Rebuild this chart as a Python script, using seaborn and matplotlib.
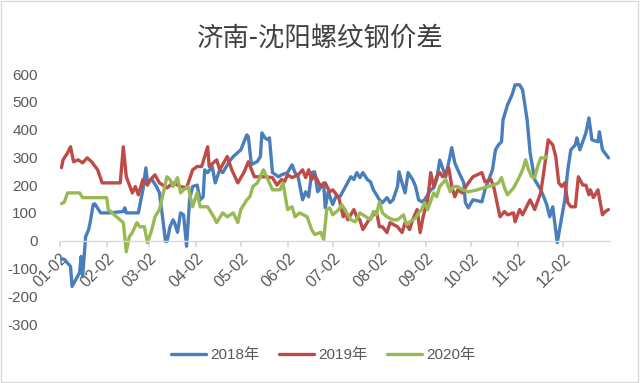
import numpy as np
import pandas as pd
import matplotlib
matplotlib.use("Agg")
import matplotlib.pyplot as plt
import seaborn as sns
from matplotlib.patches import Rectangle

# ---- data (day offset from 01-02, spread value) ----
days_2018 = [1, 3, 7, 8, 13, 14, 15, 17, 19, 20, 22, 23, 27, 33, 42, 43, 44, 52, 55, 57, 58, 61, 64, 66, 68, 70, 71,
             73, 75, 76, 78, 80, 82, 84, 86, 88, 91, 93, 95, 96, 98, 101, 103, 106, 108, 113, 115, 120, 124, 125, 127,
             131, 133, 134, 136, 138, 139, 141, 145, 147, 151, 154, 156, 158, 161, 163, 165, 167, 169, 171, 175, 176,
             178, 181, 183, 186, 189, 193, 195, 197, 199, 201, 204, 206, 208, 210, 212, 214, 217, 219, 221, 224, 225,
             227, 229, 231, 234, 236, 238, 240, 242, 246, 248, 250, 252, 256, 260, 262, 264, 268, 269, 271, 274, 280,
             282, 287, 289, 291, 293, 294, 297, 300, 302, 305, 307, 310, 312, 315, 319, 321, 323, 325, 327, 330, 333,
             335, 337, 339, 342, 343, 345, 349, 351, 353, 357, 358, 360, 364]
vals_2018 = [-65, -68, -93, -165, -115, -57, -130, 14, 40, 65, 130, 133, 100, 100, 105, 118, 100, 100, 183, 262, 212,
             220, 195, 172, 87, -3, -3, 50, 75, 65, 30, 100, 93, -20, 147, 195, 200, 147, 158, 255, 245, 267, 208, 255,
             245, 290, 303, 327, 381, 374, 274, 285, 303, 388, 370, 363, 370, 245, 230, 237, 245, 273, 245, 230, 147,
             176, 158, 245, 248, 176, 208, 118, 176, 130, 158, 160, 190, 230, 220, 245, 227, 245, 220, 212, 183, 165,
             147, 137, 155, 137, 147, 195, 248, 208, 172, 245, 220, 195, 147, 140, 147, 183, 190, 220, 290, 230, 335,
             280, 255, 208, 137, 118, 147, 140, 183, 255, 327, 345, 356, 435, 489, 525, 561, 561, 543, 435, 316, 220,
             183, 158, 130, 86, 122, -7, 86, 147, 255, 327, 345, 370, 327, 388, 442, 363, 356, 392, 327, 298]

days_2019 = [1, 2, 5, 7, 9, 12, 15, 18, 21, 25, 28, 40, 42, 44, 48, 50, 52, 55, 58, 60, 63, 66, 71, 75, 80, 84, 88,
             91, 94, 98, 99, 104, 106, 111, 114, 118, 122, 125, 129, 136, 141, 144, 147, 149, 151, 154, 158, 161, 163,
             165, 167, 169, 173, 176, 179, 181, 185, 188, 189, 191, 195, 197, 199, 201, 205, 208, 210, 212, 214, 217,
             219, 224, 227, 229, 232, 234, 237, 239, 241, 244, 246, 248, 250, 252, 254, 258, 260, 262, 264, 267, 270,
             274, 280, 282, 286, 288, 290, 292, 295, 297, 301, 302, 305, 307, 311, 312, 315, 319, 321, 324, 327, 329,
             331, 333, 335, 337, 339, 342, 344, 347, 349, 351, 352, 354, 357, 360, 362, 364]
vals_2019 = [263, 291, 316, 338, 284, 291, 280, 298, 284, 255, 208, 208, 338, 230, 172, 195, 165, 220, 200, 220, 237,
             208, 190, 208, 195, 190, 255, 267, 267, 338, 267, 291, 255, 303, 255, 208, 245, 284, 230, 230, 227, 200,
             220, 212, 237, 227, 237, 255, 227, 255, 220, 237, 195, 208, 176, 183, 155, 86, 112, 75, 112, 86, 75, 40,
             75, 93, 105, 50, 50, 29, 65, 50, 29, 65, 40, 75, 112, 29, 86, 147, 245, 195, 230, 245, 230, 262, 195, 158,
             183, 172, 200, 230, 245, 212, 220, 190, 137, 86, 105, 93, 100, 68, 112, 93, 137, 147, 112, 172, 245, 363,
             345, 303, 208, 195, 208, 137, 122, 122, 230, 200, 200, 165, 183, 155, 183, 93, 105, 112]

days_2020 = [1, 3, 5, 13, 15, 31, 32, 42, 44, 46, 48, 51, 53, 56, 58, 61, 63, 66, 71, 73, 75, 78, 80, 82, 85, 88, 91,
             93, 98, 102, 104, 108, 111, 115, 118, 120, 124, 126, 128, 131, 135, 138, 141, 146, 148, 151, 154, 156,
             159, 164, 167, 169, 173, 175, 177, 179, 181, 185, 187, 189, 193, 196, 199, 203, 206, 208, 210, 212, 214,
             217, 221, 224, 228, 230, 234, 236, 238, 240, 242, 244, 248, 250, 252, 256, 259, 261, 264, 267, 271, 277,
             281, 284, 288, 291, 293, 295, 297, 301, 304, 307, 309, 311, 313, 315, 317, 319, 322, 323]
vals_2020 = [133, 140, 172, 172, 155, 155, 112, 65, -40, 14, 29, 65, 50, 50, -7, 40, 86, 112, 230, 220, 195, 227, 172,
             183, 195, 122, 172, 122, 122, 86, 65, 100, 86, 100, 65, 112, 147, 158, 195, 208, 255, 220, 183, 183, 208,
             112, 122, 86, 100, 86, 40, 22, 30, 5, 112, 118, 93, 112, 130, 112, 75, 68, 100, 86, 75, 105, 93, 140, 100,
             86, 75, 75, 93, 58, 75, 82, 100, 112, 137, 112, 172, 158, 195, 220, 176, 195, 195, 183, 176, 183, 190, 195,
             201, 208, 227, 190, 165, 190, 220, 255, 291, 255, 230, 227, 267, 298, 298, 303]

years = ["2018年", "2019年", "2020年"]
colors = ["#4A7EBB", "#BE4B48", "#98B954"]
tick_days = [0, 31, 59, 90, 120, 151, 181, 212, 243, 273, 304, 334]
tick_labels = ["01-02", "02-02", "03-02", "04-02", "05-02", "06-02", "07-02", "08-02", "09-02", "10-02", "11-02", "12-02"]
y_ticks = [-300, -200, -100, 0, 100, 200, 300, 400, 500, 600]

df = pd.concat([
    pd.DataFrame({"day": d, "value": v, "year": y})
    for d, v, y in zip([days_2018, days_2019, days_2020], [vals_2018, vals_2019, vals_2020], years)
], ignore_index=True)

sns.set_theme(style="white")
plt.rcParams["font.family"] = ["Liberation Sans", "Noto Sans CJK SC"]

fig = plt.figure(figsize=(6.4, 3.83), dpi=100)
ax = fig.add_axes([60 / 640, 1 - 324 / 383, 550 / 640, 250 / 383])

sns.lineplot(data=df, x="day", y="value", hue="year", palette=dict(zip(years, colors)),
             linewidth=2.4, ax=ax, estimator=None, sort=False)

for s in ["top", "right", "left"]:
    ax.spines[s].set_visible(False)
ax.spines["bottom"].set_position(("data", 0))
ax.spines["bottom"].set_color("#D9D9D9")
ax.spines["bottom"].set_linewidth(1.0)

ax.set_xlim(0, 365)
ax.set_ylim(-300, 600)
ax.set_yticks(y_ticks)
ax.set_yticklabels([str(t) for t in y_ticks], color="#595959", fontsize=11)
ax.set_xticks(tick_days)
ax.set_xticklabels(tick_labels, rotation=45, ha="right", rotation_mode="anchor",
                   color="#595959", fontsize=11.5)
ax.set_xlabel("")
ax.set_ylabel("")
ax.tick_params(axis="x", which="major", bottom=True, length=4, color="#D9D9D9", pad=3)
ax.tick_params(axis="y", left=False, pad=10)

ax.legend(loc="center", bbox_to_anchor=(323 / 640, 1 - 355 / 383), bbox_transform=fig.transFigure,
          ncol=3, frameon=False, fontsize=11, handlelength=2.3, handletextpad=0.25,
          columnspacing=1.3, labelcolor="#595959")

fig.suptitle("济南-沈阳螺纹钢价差", y=1 - 38 / 383, va="center", fontsize=19, color="#404040",
             family=["Noto Sans CJK SC", "DejaVu Sans"])

fig.patches.append(Rectangle((0.002, 0.003), 0.995, 0.994, transform=fig.transFigure,
                             fill=False, edgecolor="#D9D9D9", linewidth=1.0))

fig.savefig("out.png", dpi=100)
